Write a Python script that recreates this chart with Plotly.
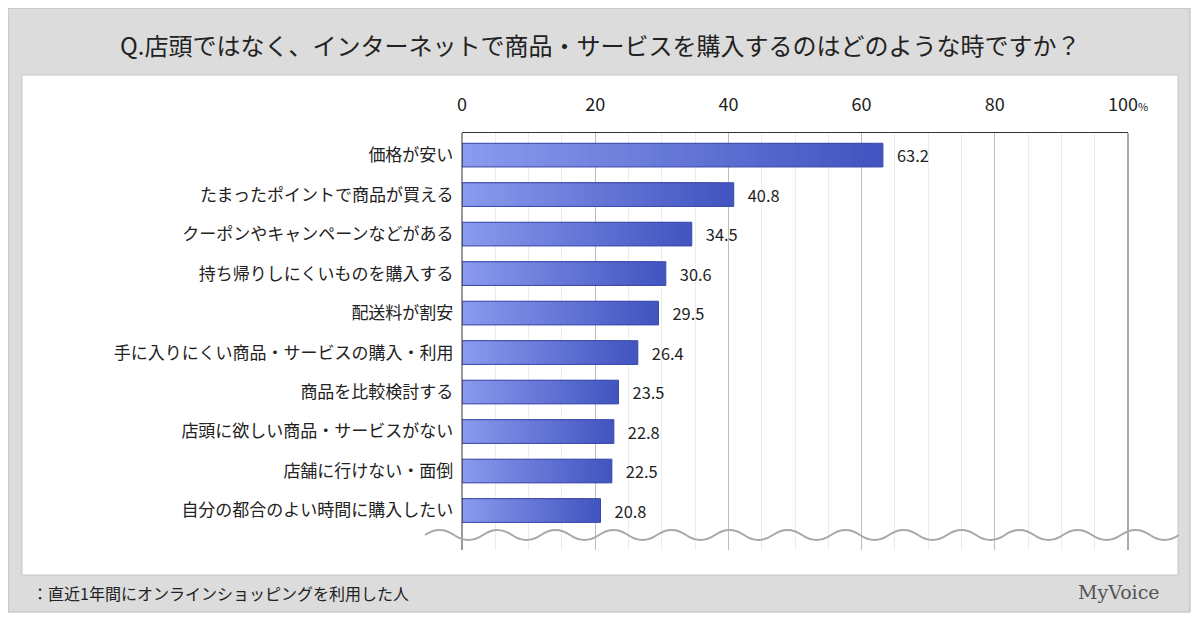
import plotly.graph_objects as go

categories = ["価格が安い", "たまったポイントで商品が買える", "クーポンやキャンペーンなどがある",
              "持ち帰りしにくいものを購入する", "配送料が割安", "手に入りにくい商品・サービスの購入・利用",
              "商品を比較検討する", "店頭に欲しい商品・サービスがない", "店舗に行けない・面倒",
              "自分の都合のよい時間に購入したい"]
values = [63.2, 40.8, 34.5, 30.6, 29.5, 26.4, 23.5, 22.8, 22.5, 20.8]
tick_vals = [0, 20, 40, 60, 80, 100]
tick_text = ["0", "20", "40", "60", "80", "100<span style='font-size:11px'>%</span>"]

FONT = "Noto Sans CJK JP"
OFF = 8
L, R, T, B = 462 - OFF, 1128 - OFF, 133 - OFF, 550 - OFF
def px(x): return (x - OFF - L) / (R - L)
def py(y): return (B - (y - OFF)) / (B - T)

fig = go.Figure()
steps = 40
for i in range(steps):
    f = 1 - i / steps
    t = i / (steps - 1)
    r = int(0x42 + (0x8a - 0x42) * t); g = int(0x55 + (0x9a - 0x55) * t); b = int(0xc0 + (0xee - 0xc0) * t)
    fig.add_trace(go.Bar(
        x=[v * f for v in values], y=categories, orientation="h",
        marker=dict(color=f"rgb({r},{g},{b})", line=dict(width=0)),
        width=0.6, hoverinfo="skip"))
fig.add_trace(go.Bar(
    x=values, y=categories, orientation="h",
    marker=dict(color="rgba(0,0,0,0)", line=dict(color="#3a4aa8", width=1)),
    width=0.6, text=[f"{v:.1f}" for v in values], textposition="outside",
    textfont=dict(size=18, color="#222", family=FONT), cliponaxis=False,
    texttemplate="   %{text}"))

shapes = [
    dict(type="rect", xref="paper", yref="paper", x0=px(8), x1=px(1190), y0=py(612), y1=py(8),
         fillcolor="#dcdcdc", line=dict(color="#b8b8b8", width=1), layer="below"),
    dict(type="rect", xref="paper", yref="paper", x0=px(22), x1=px(1178), y0=py(575), y1=py(75),
         fillcolor="white", line=dict(color="#c8c8c8", width=1), layer="below"),
    dict(type="line", xref="paper", yref="paper", x0=0, x1=0, y0=0, y1=1, line=dict(color="#333", width=1)),
    dict(type="line", xref="paper", yref="paper", x0=1, x1=1, y0=0, y1=1, line=dict(color="#555", width=1)),
]
x0p, x1p, yc, amp, half = 425, 1160, 535, 5, 29
path = f"M {px(x0p)},{py(yc)}"
xcur, sgn = x0p, -1
while xcur < x1p:
    xn = xcur + half
    path += f" Q {px(xcur + half/2)},{py(yc + sgn*amp*2)} {px(xn)},{py(yc)}"
    xcur, sgn = xn, -sgn
shapes.append(dict(type="path", xref="paper", yref="paper", path=path,
                   line=dict(color="#a8a8a8", width=2)))

fig.update_layout(
    width=1200, height=624, margin=dict(l=L, r=1200 - R, t=T, b=624 - B),
    paper_bgcolor="white", plot_bgcolor="rgba(0,0,0,0)", showlegend=False,
    barmode="overlay", font=dict(family=FONT, color="#222"),
    xaxis=dict(range=[0, 100], side="top", tickvals=tick_vals, ticktext=tick_text,
               tickfont=dict(size=18, color="#222"), showgrid=True, gridcolor="#bdbdbd",
               minor=dict(dtick=5, showgrid=True, gridcolor="#ececec"),
               showline=True, linecolor="#333", zeroline=False, ticks="", ticklabelstandoff=14),
    yaxis=dict(range=[10.0, -0.56], tickfont=dict(size=17, color="#222"), ticks="",
               showline=False, ticksuffix="  "),
    shapes=shapes,
    annotations=[
        dict(xref="paper", yref="paper", x=px(600), y=py(45), xanchor="center", yanchor="middle",
             text="Q.店頭ではなく、インターネットで商品・サービスを購入するのはどのような時ですか？",
             showarrow=False, font=dict(size=24, color="#222", family=FONT)),
        dict(xref="paper", yref="paper", x=px(30), y=py(593), xanchor="left", yanchor="middle",
             text="：直近1年間にオンラインショッピングを利用した人", showarrow=False,
             font=dict(size=16, color="#222", family=FONT)),
        dict(xref="paper", yref="paper", x=px(1162), y=py(592), xanchor="right", yanchor="middle",
             text="MyVoice", showarrow=False, font=dict(size=19, color="#555", family="DejaVu Serif")),
    ],
)
fig.write_html("out.html")
